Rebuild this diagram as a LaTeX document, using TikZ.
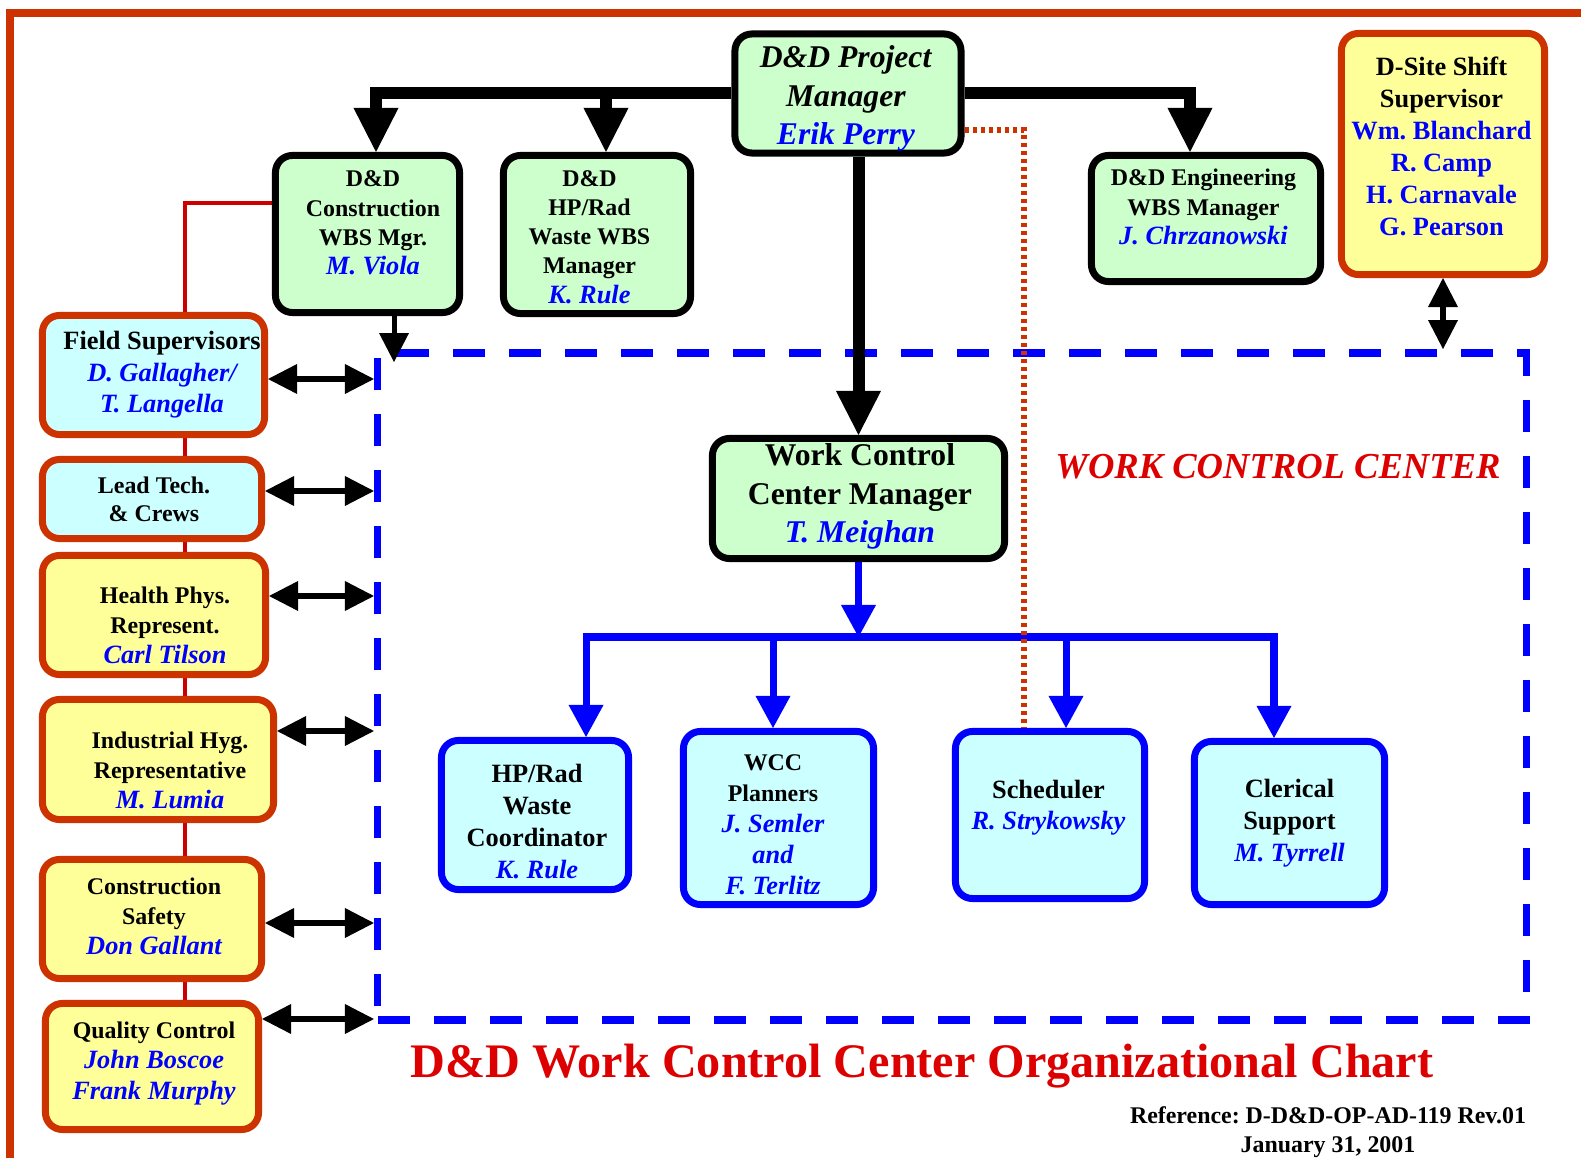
\documentclass[tikz,border=0pt]{standalone}
\usepackage{fontspec}
\setmainfont{Liberation Serif}
\usetikzlibrary{arrows.meta}

\definecolor{mint}{HTML}{CCFFCC}
\definecolor{paleCyan}{HTML}{CCFFFF}
\definecolor{paleYellow}{HTML}{FFFF99}
\definecolor{rust}{HTML}{CC3300}
\definecolor{feedred}{HTML}{CC0000}
\definecolor{titleRed}{HTML}{DD0000}

\newcommand{\who}[1]{{\fontsize{7.5}{9}\selectfont\itshape\color{blue}#1}}
\newcommand{\Who}[1]{{\itshape\color{blue}#1}}

\pgfdeclarelayer{back}
\pgfsetlayers{back,main}

\frenchspacing
\begin{document}
\begin{tikzpicture}[x=0.01cm, y=-0.01cm,
    orgbox/.style={rounded corners=0.17cm, line width=0.07cm, inner sep=0pt},
    greenbox/.style={orgbox, draw=black, fill=mint},
    bluebox/.style={orgbox, draw=blue, fill=paleCyan},
    redbox/.style={orgbox, draw=rust, fill=#1},
    smalltxt/.style={align=center, inner sep=0pt, font=\fontsize{6.8}{#1}\selectfont\bfseries},
    smalltxt/.default=8.3,
    midtxt/.style={align=center, inner sep=0pt, font=\fontsize{7.5}{#1}\selectfont\bfseries},
    midtxt/.default=9.1,
    bigtxt/.style={align=center, inner sep=0pt, font=\fontsize{9}{11}\selectfont\bfseries},
    wccframe/.style={draw=blue, line width=0.075cm, dash pattern=on 0.32cm off 0.24cm, inner sep=0pt},
    bus/.style={line width=0.12cm, -{Triangle[width=0.45cm, length=0.44cm, line width=0pt]}},
    bluebus/.style={blue, line width=0.07cm, -{Triangle[width=0.35cm, length=0.32cm, line width=0pt]}},
    smallarrow/.style={line width=0.05cm, -{Triangle[width=0.3cm, length=0.29cm, line width=0pt]}},
    twoway/.style={line width=0.055cm,
      {Triangle[width=0.3cm, length=0.29cm, line width=0pt]}-{Triangle[width=0.3cm, length=0.29cm, line width=0pt]}},
    dotline/.style={rust, line width=0.055cm, dash pattern=on 0.045cm off 0.035cm},
    feed/.style={feedred, line width=0.045cm}]
  \useasboundingbox (0,0) rectangle (1581,1158);

  % Frame
  \draw[rust, line width=0.08cm] (10,1158) -- (10,13) -- (1581,13);

  % Project manager
  \node[greenbox, minimum width=2.26cm, minimum height=1.19cm,
    label={[bigtxt, xshift=-0.02cm, yshift=-0.05cm]center:{\textit{D\&D Project}\\\textit{Manager}\\\Who{Erik Perry}}}] (pm) at (848,93.5) {};

  % WBS managers
  \node[greenbox, minimum width=1.84cm, minimum height=1.57cm,
    label={[smalltxt, xshift=0.055cm, yshift=0.11cm]center:{D\&D\\Construction\\WBS Mgr.\\\who{M. Viola}}}] (con) at (367.5,234) {};
  \node[greenbox, minimum width=1.87cm, minimum height=1.58cm,
    label={[smalltxt, xshift=-0.075cm, yshift=-0.025cm]center:{D\&D\\HP/Rad\\Waste WBS\\Manager\\\who{K. Rule}}}] (hp) at (597,234.5) {};
  \node[greenbox, minimum width=2.29cm, minimum height=1.26cm,
    label={[smalltxt=8.4, xshift=-0.025cm, yshift=0.115cm]center:{D\&D Engineering\\WBS Manager\\\who{J. Chrzanowski}}}] (eng) at (1206,218.5) {};

  % Shift supervisor
  \node[redbox=paleYellow, minimum width=2.03cm, minimum height=2.41cm,
    label={[midtxt, xshift=-0.015cm, yshift=0.075cm]center:{D-Site Shift\\Supervisor\\\textcolor{blue}{Wm. Blanchard}\\\textcolor{blue}{R. Camp}\\\textcolor{blue}{H. Carnavale}\\\textcolor{blue}{G. Pearson}}}] (ds) at (1443,154) {};

  % Work control center
  \node[wccframe, minimum width=11.48cm, minimum height=6.67cm] (wcc) at (952,686.5) {};
  \node[text=titleRed, inner sep=0pt, font=\fontsize{10.4}{12}\selectfont\bfseries\itshape] (wcclabel) at (1278,467) {WORK CONTROL CENTER};

  % WCC manager
  \node[greenbox, minimum width=2.92cm, minimum height=1.20cm,
    label={[bigtxt, xshift=0.015cm, yshift=0.02cm]center:{Work Control\\Center Manager\\\Who{T. Meighan}}}] (wccm) at (858.5,498.5) {};

  % WCC staff
  \node[bluebox, minimum width=1.87cm, minimum height=1.49cm,
    label={[midtxt, xshift=0.02cm, yshift=-0.065cm]center:{HP/Rad\\Waste\\Coordinator\\\who{K. Rule}}}] (hprw) at (535,815) {};
  \node[bluebox, minimum width=1.90cm, minimum height=1.73cm,
    label={[smalltxt=8.8, xshift=-0.055cm, yshift=-0.065cm]center:{WCC\\Planners\\\who{J. Semler}\\\who{and}\\\who{F. Terlitz}}}] (wccp) at (778.5,818) {};
  \node[bluebox, minimum width=1.89cm, minimum height=1.67cm,
    label={[midtxt=8.8, xshift=-0.015cm, yshift=0.075cm]center:{Scheduler\\\who{R. Strykowsky}}}] (sched) at (1050,815) {};
  \node[bluebox, minimum width=1.90cm, minimum height=1.63cm,
    label={[midtxt]center:{Clerical\\Support\\\who{M. Tyrrell}}}] (cler) at (1289.5,823) {};

  % Field staff
  \node[redbox=paleCyan, minimum width=2.22cm, minimum height=1.19cm,
    label={[midtxt=9, xshift=0.085cm]center:{Field Supervisors\\\who{D. Gallagher/}\\\who{T. Langella}}}] (fs) at (153.5,375) {};
  \node[redbox=paleCyan, minimum width=2.19cm, minimum height=0.79cm,
    label={[smalltxt=8, xshift=0.02cm]center:{Lead Tech.\\\& Crews}}] (lt) at (152,499) {};
  \node[redbox=paleYellow, minimum width=2.23cm, minimum height=1.19cm,
    label={[smalltxt=8.5, xshift=0.11cm, yshift=-0.1cm]center:{Health Phys.\\Represent.\\\who{Carl Tilson}}}] (hpr) at (154,615) {};
  \node[redbox=paleYellow, minimum width=2.31cm, minimum height=1.20cm,
    label={[smalltxt=8.5, xshift=0.12cm, yshift=-0.105cm]center:{Industrial Hyg.\\Representative\\\who{M. Lumia}}}] (ih) at (158,759.5) {};
  \node[redbox=paleYellow, minimum width=2.19cm, minimum height=1.19cm,
    label={[smalltxt=8.6, xshift=0.02cm, yshift=0.025cm]center:{Construction\\Safety\\\who{Don Gallant}}}] (cs) at (152,919) {};
  \node[redbox=paleYellow, minimum width=2.13cm, minimum height=1.26cm,
    label={[smalltxt=8.8, xshift=0.02cm, yshift=0.03cm]center:{Quality Control\\\who{John Boscoe}\\\who{Frank Murphy}}}] (qc) at (152,1066.5) {};

  % Title and reference
  \node[anchor=base, text=titleRed, inner sep=0pt, font=\fontsize{13.7}{16}\selectfont\bfseries] (title) at (922,1077)
    {D\&D Work Control Center Organizational Chart};
  \node[align=center, inner sep=0pt, font=\fontsize{6.8}{8.2}\selectfont\bfseries] (ref) at (1328,1132)
    {Reference: D-D\&D-OP-AD-119 Rev.01\\January 31, 2001};

  % Line behind the field staff
  \begin{pgfonlayer}{back}
    \draw[feed] ([yshift=0.31cm]con.west) -| ([xshift=0.33cm]qc.north);
  \end{pgfonlayer}

  % Reporting lines
  \draw[bus] (pm.west) -| ([xshift=0.085cm]con.north);
  \draw[bus] (pm.west) -| ([xshift=0.09cm]hp.north);
  \draw[bus] (pm.east) -| ([xshift=-0.16cm]eng.north);
  \draw[bus] (wccm.north |- pm.south) -- (wccm.north);

  % WCC manager to staff
  \coordinate (hub) at (wccm.south |- 0,637);
  \draw[bluebus] (wccm.south) -- (hub);
  \draw[bluebus] (hub) -| ([xshift=0.51cm]hprw.north);
  \draw[bluebus] (hub) -| ([xshift=-0.055cm]wccp.north);
  \draw[bluebus] (hub) -| ([xshift=0.16cm]sched.north);
  \draw[bluebus] (hub) -| ([xshift=-0.155cm]cler.north);

  % Dotted link to scheduler
  \draw[dotline] ([yshift=-0.365cm]pm.east) -| ([xshift=-0.26cm]sched.north);

  % Construction into WCC
  \draw[smallarrow] ([xshift=0.265cm]con.south) -- ++(0,46);

  % Two-way links
  \foreach \b/\y in {fs/379, lt/491, hpr/596, ih/731, cs/923, qc/1019}
    \draw[twoway] (\b.east |- 0,\y) -- (wcc.west |- 0,\y);
  \draw[twoway] (ds.south) -- (ds.south |- wcc.north);
\end{tikzpicture}
\end{document}
